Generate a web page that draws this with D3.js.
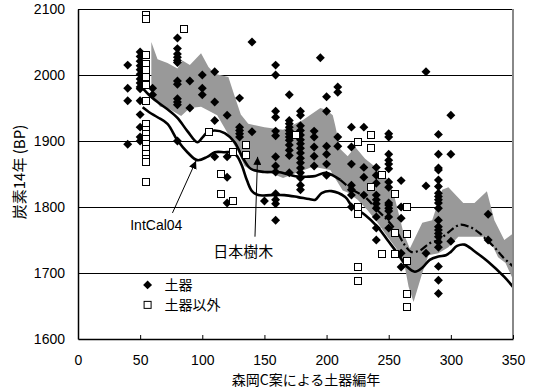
<!DOCTYPE html>
<html>
<head>
<meta charset="utf-8">
<script src="https://cdn.jsdelivr.net/npm/d3@7"></script>
<style>
  body { margin: 0; background: #fff; }
  svg { display: block; }
  text { font-family: "Liberation Sans", Arial, "Noto Sans CJK JP", sans-serif; fill: #000; }
  .jp { font-family: "Noto Sans CJK JP", sans-serif; }
</style>
</head>
<body>
<div id="chart"></div>
<script>
// ---- data ----
const xTicks = [0, 50, 100, 150, 200, 250, 300, 350];
const yTicks = [1600, 1700, 1800, 1900, 2000, 2100];
const gridValues = [1700, 1800, 1900, 2000];

// 日本樹木 (gray band)
const bandUpper = [[59,2050],[64,2024],[72,2018],[80,2010],[84,2022],[90,2015],[99,2033],[105,2012],[110,2002],
  [121,1997],[126,1968],[131,1940],[137,1926],[150,1921],[165,1917],[181,1932],[195,1950],[200,1947],[205,1939],
  [207,1923],[211,1888],[217,1877],[223,1891],[231,1873],[241,1858],[249,1842],[254,1820],[258,1790],[262,1760],
  [267,1737],[277,1776],[285,1780],[293,1826],[298,1830],[310,1806],[319,1806],[329,1824],[335,1780],[343,1750],[350,1760]];
const bandLower = [[59,1972],[66,1952],[72,1950],[83,1938],[90,1950],[99,1952],[104,1947],[112,1939],[121,1910],
  [129,1883],[134,1862],[142,1853],[153,1853],[165,1844],[176,1852],[189,1861],[203,1856],[208,1840],[213,1825],
  [217,1822],[225,1811],[233,1795],[241,1776],[249,1755],[257,1735],[263,1709],[266,1679],[270,1656],[277,1700],
  [282,1727],[290,1730],[298,1739],[306,1755],[330,1755],[338,1724],[344,1715],[350,1690]];

// IntCal04 upper curve (solid, then dash-dot from x = 211)
const upperCurve = [[52,1980],[57,1970],[64,1959],[72,1948],[80,1935],[88,1915],[96,1898],[100,1905],[104,1913],
  [110,1916],[118,1912],[126,1898],[133,1873],[139,1858],[150,1853],[161,1853],[170,1849],[177,1846],[185,1846],
  [191,1847],[199,1852],[205,1848],[211,1841],[221,1826],[231,1815],[241,1795],[249,1780],[257,1761],[263,1742],
  [268,1732],[275,1734],[283,1745],[290,1750],[297,1760],[307,1773],[315,1770],[322,1762],[329,1750],[336,1737],
  [342,1724],[350,1710]];
const dashFrom = 211;
// IntCal04 lower curve (solid)
const lowerCurve = [[52,1951],[57,1944],[64,1936],[72,1926],[80,1901],[88,1883],[96,1871],[104,1876],[110,1883],
  [118,1883],[124,1883],[128,1877],[132,1862],[136,1840],[140,1824],[145,1818],[155,1818],[166,1818],[177,1815],
  [186,1812],[191,1811],[196,1821],[204,1824],[215,1815],[221,1800],[231,1788],[241,1770],[249,1750],[257,1730],
  [265,1709],[271,1702],[277,1708],[283,1720],[290,1725],[296,1727],[300,1732],[305,1741],[311,1743],[319,1733],
  [330,1717],[343,1694],[350,1679]];

// 土器 (filled diamonds), grouped by x
const potteryX = [40, 50, 60, 80, 90, 100, 110, 120, 130, 140, 150, 159, 170, 179, 190, 195, 200, 209, 220, 230, 240, 250, 260, 280, 290, 300, 330];
const potteryY = [
  [2015,1980,1961,1895],
  [2035,2028,2021,2014,2008,2001,1994,1988,1982,1979,1961,1940,1921,1906,1900],
  [1980,1970],
  [2056,2040,2032,2027,2022,2019,1991,1986,1964,1959,1955,1900],
  [1991,1950],
  [2000,1980,1970],
  [2005,1959,1931,1876],
  [1939,1876,1845,1806],
  [1965,1921,1916,1911,1906],
  [2050,1914],
  [1809],
  [2015,2000,1945,1936,1915,1908,1876,1862,1853,1820,1811,1805,1780],
  [1970,1931,1926,1921,1916,1911,1906,1901,1894,1886,1878,1852],
  [1945,1939,1923,1916,1909,1902,1896,1889,1882,1874,1867,1859,1852,1844,1833,1826],
  [1915,1906,1891,1877,1862],
  [2026],
  [1967,1945,1892,1880,1865,1848],
  [1982,1974,1906,1892],
  [1921,1891,1865,1833,1826,1818,1800],
  [1921,1860,1845,1818],
  [1860,1848,1836,1818,1811,1805,1798,1785,1768,1750],
  [1911,1906,1880,1871,1865,1858,1838,1830,1806,1803,1798,1794,1785,1768],
  [1840,1800,1783,1730,1709],
  [2005,1832,1730],
  [1910,1880,1859,1856,1841,1831,1821,1816,1811,1806,1798,1780,1770,1765,1760,1755,1747,1739,1710,1689,1669],
  [1939,1880,1748],
  [1789,1750]
];
// 土器以外 (open squares), grouped by x
const otherX = [55, 85, 105, 115, 125, 135, 175, 225, 236, 245, 255, 265];
const otherY = [
  [2091,2085,2030,2017,2007,1997,1985,1960,1925,1916,1910,1903,1895,1888,1880,1873,1868,1838],
  [2070],
  [1914],
  [1850,1820],
  [1883,1809],
  [1894,1879],
  [1909],
  [1898,1800,1790,1709,1688],
  [1909,1889,1830],
  [1848,1729],
  [1820,1761,1729],
  [1800,1759,1718,1668,1649]
];

const legendLabels = ['土器', '土器以外'];

// ---- chart ----
const width = 539, height = 390;
const margin = { top: 9, right: 26, bottom: 51, left: 78 };

const svg = d3.select('#chart').append('svg')
  .attr('width', width)
  .attr('height', height);

const x = d3.scaleLinear().domain([0, 350]).range([margin.left, width - margin.right]);
const y = d3.scaleLinear().domain([1600, 2100]).range([height - margin.bottom, margin.top]);

// grid
svg.append('g').selectAll('line')
  .data(gridValues)
  .join('line')
  .attr('x1', x(0)).attr('x2', x(350))
  .attr('y1', d => y(d)).attr('y2', d => y(d))
  .attr('stroke', '#000').attr('stroke-width', 1)
  .attr('shape-rendering', 'crispEdges');

// gray band
const line = d3.line().x(d => x(d[0])).y(d => y(d[1]));
svg.append('path')
  .attr('d', line(bandUpper.concat(bandLower.slice().reverse())) + 'Z')
  .attr('fill', '#999999');

// curves
const smooth = d3.line().x(d => x(d[0])).y(d => y(d[1])).curve(d3.curveCatmullRom.alpha(0.5));
svg.append('path')
  .attr('d', smooth(lowerCurve))
  .attr('fill', 'none').attr('stroke', '#000').attr('stroke-width', 2.6);
svg.append('path')
  .attr('d', smooth(upperCurve.filter(d => d[0] <= dashFrom)))
  .attr('fill', 'none').attr('stroke', '#000').attr('stroke-width', 2.6);
svg.append('path')
  .attr('d', smooth(upperCurve.filter(d => d[0] >= dashFrom)))
  .attr('fill', 'none').attr('stroke', '#000').attr('stroke-width', 2.2)
  .attr('stroke-dasharray', '8,3,2,3');

// points
const diamond = d3.symbol(d3.symbolSquare, 40);
const potteryPts = potteryX.flatMap((px, i) => potteryY[i].map(py => [px, py]));
const otherPts = otherX.flatMap((px, i) => otherY[i].map(py => [px, py]));

svg.append('g').selectAll('path')
  .data(potteryPts)
  .join('path')
  .attr('d', diamond)
  .attr('transform', d => `translate(${x(d[0])},${y(d[1])}) rotate(45)`)
  .attr('fill', '#000');

svg.append('g').selectAll('rect')
  .data(otherPts)
  .join('rect')
  .attr('x', d => Math.round(x(d[0])) - 3.5)
  .attr('y', d => Math.round(y(d[1])) - 3.5)
  .attr('width', 7).attr('height', 7)
  .attr('fill', '#fff').attr('stroke', '#000').attr('stroke-width', 1);

// frame
svg.append('line')
  .attr('x1', x(0)).attr('x2', x(350)).attr('y1', y(2100)).attr('y2', y(2100))
  .attr('stroke', '#000').attr('shape-rendering', 'crispEdges');
svg.append('line')
  .attr('x1', x(350)).attr('x2', x(350)).attr('y1', y(2100)).attr('y2', y(1600))
  .attr('stroke', '#888').attr('stroke-width', 1.5).attr('shape-rendering', 'crispEdges');

// axes
const xAxis = svg.append('g')
  .attr('transform', `translate(0,${y(1600)})`)
  .call(d3.axisBottom(x).tickValues(xTicks).tickFormat(d3.format('d'))
    .tickSizeInner(-4).tickSizeOuter(0).tickPadding(16));
xAxis.select('.domain').attr('stroke-width', 1.5);
xAxis.selectAll('text').attr('font-size', 14).attr('font-family', '"Liberation Sans", Arial, sans-serif');

const yAxis = svg.append('g')
  .attr('transform', `translate(${x(0)},0)`)
  .call(d3.axisLeft(y).tickValues(yTicks).tickFormat(d3.format('d'))
    .tickSize(0).tickPadding(13));
yAxis.select('.domain').attr('stroke-width', 1.5);
yAxis.selectAll('text').attr('font-size', 14).attr('font-family', '"Liberation Sans", Arial, sans-serif');

// axis titles
svg.append('text')
  .attr('class', 'jp')
  .attr('x', 306).attr('y', 385)
  .attr('text-anchor', 'middle')
  .attr('font-size', 14)
  .text('森岡C案による土器編年');

svg.append('text')
  .attr('class', 'jp')
  .attr('transform', 'translate(25,172) rotate(-90)')
  .attr('text-anchor', 'middle')
  .attr('font-size', 15)
  .text('炭素14年 (BP)');

// legend
const legend = svg.append('g').attr('transform', `translate(${x(56)},${y(1682)})`);
legend.append('path')
  .attr('d', diamond)
  .attr('transform', 'rotate(45)')
  .attr('fill', '#000');
legend.append('rect')
  .attr('x', -3.5).attr('y', 16.5).attr('width', 7).attr('height', 7)
  .attr('fill', '#fff').attr('stroke', '#000');
legend.selectAll('text')
  .data(legendLabels)
  .join('text')
  .attr('class', 'jp')
  .attr('x', 17)
  .attr('y', (d, i) => i * 20 + 5)
  .attr('font-size', 14)
  .text(d => d);

// annotations
svg.append('defs').append('marker')
  .attr('id', 'arrow')
  .attr('viewBox', '0 0 10 10')
  .attr('refX', 10).attr('refY', 5)
  .attr('markerWidth', 8).attr('markerHeight', 8)
  .attr('markerUnits', 'userSpaceOnUse')
  .attr('orient', 'auto')
  .append('path').attr('d', 'M0,0L10,5L0,10Z').attr('fill', '#000');

svg.append('line')
  .attr('x1', x(76)).attr('y1', y(1791))
  .attr('x2', x(95)).attr('y2', y(1870))
  .attr('stroke', '#000').attr('stroke-width', 1)
  .attr('marker-end', 'url(#arrow)');
svg.append('text')
  .attr('x', x(63)).attr('y', y(1765))
  .attr('text-anchor', 'middle')
  .attr('font-size', 14)
  .text('IntCal04');

svg.append('line')
  .attr('x1', x(142.4)).attr('y1', y(1755))
  .attr('x2', x(144.5)).attr('y2', y(1876))
  .attr('stroke', '#000').attr('stroke-width', 1)
  .attr('marker-end', 'url(#arrow)');
svg.append('text')
  .attr('class', 'jp')
  .attr('x', x(133)).attr('y', y(1725))
  .attr('text-anchor', 'middle')
  .attr('font-size', 15)
  .text('日本樹木');
</script>
</body>
</html>
